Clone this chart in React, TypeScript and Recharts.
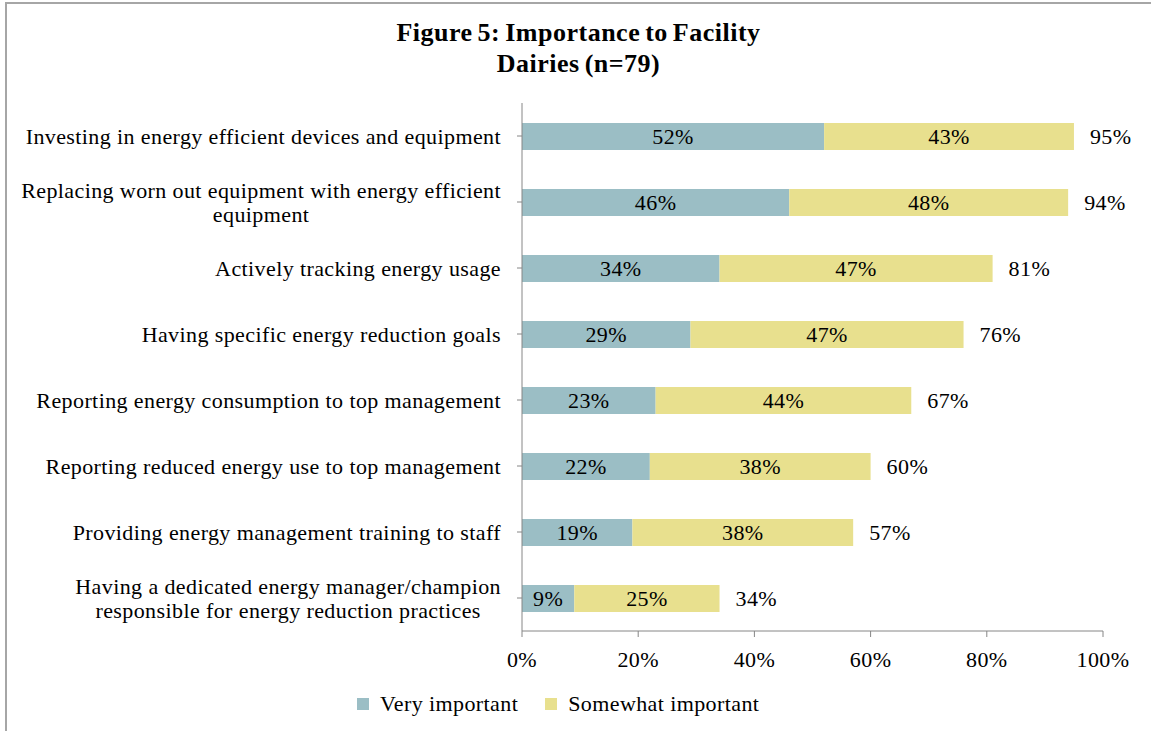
import React from "react"
import { BarChart, Bar, XAxis, YAxis, LabelList } from "recharts"

const categories = [
  "Investing in energy efficient devices and equipment",
  "Replacing worn out equipment with energy efficient\nequipment",
  "Actively tracking energy usage",
  "Having specific energy reduction goals",
  "Reporting energy consumption to top management",
  "Reporting reduced energy use to top management",
  "Providing energy management training to staff",
  "Having a dedicated energy manager/champion\nresponsible for energy reduction practices",
]
const veryImportant = [52, 46, 34, 29, 23, 22, 19, 9]
const somewhatImportant = [43, 48, 47, 47, 44, 38, 38, 25]
const totals = [95, 94, 81, 76, 67, 60, 57, 34]
const xTicks = [0, 20, 40, 60, 80, 100]

const seriesNames = ["Very important", "Somewhat important"]
const COLORS = ["#9BBEC5", "#E8E08E"]
const FONT = '"Liberation Serif", "Times New Roman", serif'
const FS = 22
const LS = 0.4

const textStyle = { fontFamily: FONT, fontSize: FS, fill: "#000", letterSpacing: LS }

const data = categories.map((c, i) => ({
  name: c,
  very: veryImportant[i],
  somewhat: somewhatImportant[i],
  total: totals[i],
}))

let ctx: CanvasRenderingContext2D | null = null
function measure(s: string) {
  if (!ctx) ctx = document.createElement("canvas").getContext("2d")
  if (!ctx) return s.length * 10
  ctx.font = `${FS}px ${FONT}`
  return ctx.measureText(s).width + s.length * LS
}

// wrapped labels: lines centered inside a right-aligned block
function CategoryTick(props: any) {
  const { x, y, payload } = props
  const lines = String(payload.value).split("\n")
  const w = Math.max(...lines.map(measure))
  const cx = x - w / 2
  const lh = 24
  const y0 = y - ((lines.length - 1) * lh) / 2
  return (
    <g>
      {lines.map((l, i) => (
        <text key={i} x={cx} y={y0 + i * lh} dy="0.35em" textAnchor="middle" style={textStyle}>{l}</text>
      ))}
    </g>
  )
}

function TotalLabel(props: any) {
  const { x, y, width, height, index } = props
  return (
    <text x={x + width + 16} y={y + height / 2} dy="0.35em" textAnchor="start" style={textStyle}>
      {totals[index]}%
    </text>
  )
}

export default function App() {
  return (
    <div style={{ position: "fixed", left: 0, top: 0, width: 1151, height: 731, background: "#fff", overflow: "hidden" }}>
      <div style={{ position: "absolute", left: 5, top: 2, width: 1170, height: 760, border: "2px solid #a6a6a6", boxSizing: "border-box" }} />
      <div style={{ position: "absolute", left: 0, top: 17, width: 1157, textAlign: "center", fontFamily: FONT, fontWeight: "bold", fontSize: 26, letterSpacing: 0.5, wordSpacing: -2, lineHeight: "31px", color: "#000" }}>
        Figure 5: Importance to Facility<br />Dairies (n=79)
      </div>
      <div style={{ position: "absolute", left: 0, top: 0 }}>
        <BarChart width={1151} height={731} data={data} layout="vertical"
          margin={{ top: 103, right: 48, bottom: 70, left: 0 }}>
          <XAxis type="number" domain={[0, 100]} ticks={xTicks} tickFormatter={(v) => `${v}%`}
            stroke="#868686" tickSize={6} tickMargin={14} interval={0}
            tick={textStyle} height={30} />
          <YAxis type="category" dataKey="name" width={522} stroke="#868686" tickSize={5}
            tickMargin={16} interval={0} tick={<CategoryTick />} />
          <Bar dataKey="very" stackId="a" fill={COLORS[0]} barSize={27} isAnimationActive={false}>
            <LabelList dataKey="very" position="center" formatter={(v: any) => `${v}%`} style={textStyle} />
          </Bar>
          <Bar dataKey="somewhat" stackId="a" fill={COLORS[1]} barSize={27} isAnimationActive={false}>
            <LabelList dataKey="somewhat" position="center" formatter={(v: any) => `${v}%`} style={textStyle} />
            <LabelList dataKey="total" content={<TotalLabel />} />
          </Bar>
        </BarChart>
      </div>
      <div style={{ position: "absolute", top: 691, left: 357, display: "flex", alignItems: "center", fontFamily: FONT, fontSize: FS, letterSpacing: LS, color: "#000" }}>
        {seriesNames.map((n, i) => (
          <div key={n} style={{ display: "flex", alignItems: "center", marginRight: 27 }}>
            <span style={{ width: 12, height: 12, background: COLORS[i], display: "inline-block", marginRight: 11 }} />
            <span>{n}</span>
          </div>
        ))}
      </div>
    </div>
  )
}
